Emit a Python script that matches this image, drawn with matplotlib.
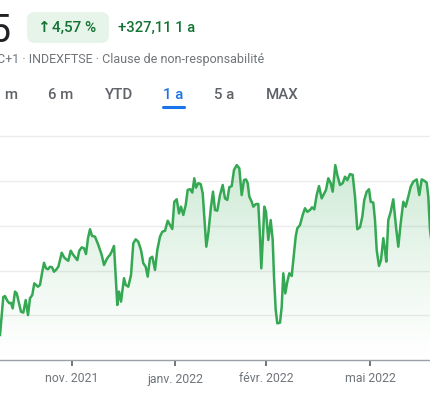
import numpy as np
import matplotlib
matplotlib.use("Agg")
import matplotlib.pyplot as plt
from matplotlib.patches import FancyBboxPatch
from matplotlib.lines import Line2D

plt.rcParams['font.family'] = ['Roboto', 'DejaVu Sans']

# ---- data (FTSE 100 level, visible part of the 1-year chart) ----
x_pos = [0, 3.3, 5, 7.3, 9.3, 11, 12.7, 15, 16.7, 19, 21, 23.3, 25.7, 28, 30, 32.3,
         34.3, 36, 38, 40, 42, 44, 46, 48, 50, 52, 54, 56, 58.3, 60, 61.7, 64, 66,
         68.3, 70.7, 72.7, 75, 77.3, 79.3, 81.7, 84, 86, 88, 90, 92, 95, 98.3, 101.7,
         104, 106.7, 108.3, 110, 111.7, 114, 117.3, 119, 121, 124, 125.7, 128.3, 131,
         133.3, 135.7, 138.3, 141, 143.3, 145.7, 147.7, 150, 152.3, 155, 157.3, 160,
         162.3, 165, 167.7, 170, 172.3, 174.3, 176.7, 179, 181, 183.3, 185.7, 187.7,
         190.3, 192.3, 194.3, 196, 198.3, 200.7, 202.7, 204.3, 206.3, 208.3, 211, 213,
         215, 217.3, 220, 222.7, 225, 227.3, 229.3, 231.7, 234, 236.7, 239.3, 241.7,
         244, 246, 247.7, 249.3, 251.7, 253.3, 256, 258.3, 260, 261.3, 263.3, 264.3,
         266, 268.3, 270.7, 272.7, 274, 275.7, 277.3, 280, 281.7, 283.3, 285.3, 287.3,
         289.3, 291.7, 293.3, 295.7, 297.3, 300, 302.7, 305, 307.3, 310, 312, 314.3,
         316.7, 319, 321.7, 324, 326, 328.3, 330.7, 332.7, 335.3, 337.3, 340, 342.7,
         345, 347.3, 350, 352.7, 355, 357.3, 360, 362.3, 364.3, 366.7, 369, 370.7,
         373.3, 375, 376.7, 379, 381, 383.3, 385, 386.3, 388.3, 390.7, 393.3, 396,
         398.3, 400.7, 403.3, 405.7, 408.3, 410.7, 413.3, 416.7, 419.3, 421.7, 424.3,
         426.7, 428.3, 430, 431]
level = [6912, 7082, 7086, 7065, 7054, 7056, 7031, 7106, 7098, 7054, 7016, 7012, 7068,
         7001, 7076, 7091, 7143, 7136, 7128, 7136, 7188, 7235, 7210, 7206, 7217, 7215,
         7195, 7203, 7217, 7247, 7280, 7260, 7251, 7244, 7289, 7274, 7260, 7247, 7289,
         7304, 7300, 7274, 7345, 7385, 7355, 7352, 7315, 7270, 7225, 7251, 7262, 7270,
         7285, 7310, 7046, 7106, 7061, 7166, 7136, 7128, 7180, 7322, 7340, 7329, 7292,
         7233, 7217, 7173, 7255, 7262, 7203, 7292, 7352, 7374, 7378, 7423, 7404, 7386,
         7508, 7519, 7456, 7486, 7449, 7493, 7561, 7564, 7549, 7613, 7571, 7591, 7587,
         7546, 7441, 7307, 7367, 7486, 7553, 7471, 7468, 7538, 7583, 7523, 7516, 7573,
         7578, 7650, 7672, 7658, 7538, 7605, 7608, 7591, 7531, 7508, 7486, 7498, 7498,
         7352, 7210, 7382, 7486, 7463, 7337, 7426, 7337, 7173, 7024, 6964, 6967, 7038,
         7188, 7098, 7150, 7188, 7176, 7247, 7352, 7389, 7404, 7449, 7479, 7463, 7471,
         7483, 7474, 7538, 7578, 7523, 7543, 7561, 7613, 7591, 7553, 7672, 7628, 7583,
         7591, 7620, 7605, 7632, 7628, 7531, 7385, 7394, 7441, 7516, 7553, 7564, 7508,
         7504, 7426, 7292, 7221, 7247, 7345, 7292, 7240, 7426, 7463, 7519, 7396, 7307,
         7412, 7508, 7486, 7531, 7575, 7598, 7608, 7538, 7608, 7602, 7593, 7531, 7382,
         7346]
tick_pos = [71.7, 175, 266, 370]
tick_labels = ["nov. 2021", "janv. 2022", "févr. 2022", "mai 2022"]
grid_levels = [7000, 7200, 7400, 7600, 7800]
tabs = ["m", "6 m", "YTD", "1 a", "5 a", "MAX"]
tab_centers = [11, 61, 119, 173.5, 224, 282]
active_tab = "1 a"

W, H = 431, 396
fig = plt.figure(figsize=(W / 100, H / 100), dpi=100)
fig.patch.set_facecolor("white")

def fx(x):
    return x / W

def fy(y):
    return 1 - y / H

# ---- chart axes ----
ax = fig.add_axes([0, fy(360), 1, (360 - 130) / H])
ymin, ymax = 6800, 6800 + 230 * 4.474
ax.set_facecolor("white")

for g in grid_levels:
    ax.axhline(g, color="#ececec", lw=1.0, zorder=0)

green = "#34a853"
xs = np.array(x_pos)
ys = np.array(level)
poly = ax.fill_between(xs, ys, ymin, color="none", lw=0)
grad = np.linspace(0, 1, 256).reshape(-1, 1)
rgba = np.zeros((256, 1, 4))
rgba[..., 0] = 0x34 / 255
rgba[..., 1] = 0xa8 / 255
rgba[..., 2] = 0x53 / 255
rgba[..., 3] = 0.25 * grad ** 1.2
im = ax.imshow(rgba, extent=[0, 431, ymin, 7700], origin="lower", aspect="auto",
               zorder=1, interpolation="bilinear")
im.set_clip_path(poly.get_paths()[0], transform=ax.transData)
ax.set_xlim(0, 431)
ax.set_ylim(ymin, ymax)

ax.plot(xs, ys, color=green, lw=1.8, zorder=3, solid_joinstyle="round")

for s in ["top", "left", "right"]:
    ax.spines[s].set_visible(False)
ax.spines["bottom"].set_color("#9aa0a6")
ax.spines["bottom"].set_linewidth(1.0)
ax.set_yticks([])
ax.set_xticks(tick_pos)
ax.set_xticklabels(tick_labels)
ax.tick_params(axis="x", direction="out", length=4, width=1.4, color="#70757a",
               labelcolor="#70757a", labelsize=8.8, pad=5)

# ---- header ----
fig.text(fx(10), fy(42), "5", fontsize=27, color="#202124", ha="right", va="baseline")

badge = FancyBboxPatch((fx(27), fy(43)), fx(109) - fx(27), fy(12) - fy(43),
                       boxstyle="round,pad=0,rounding_size=0.018",
                       transform=fig.transFigure, facecolor="#e6f4ea",
                       edgecolor="none", mutation_aspect=W / H)
fig.add_artist(badge)
fig.text(fx(37), fy(28), "↑", fontsize=11, color="#137333", ha="left", va="center",
         family="DejaVu Sans", fontweight="bold")
fig.text(fx(52), fy(28), "4,57 %", fontsize=11, color="#137333", ha="left",
         va="center", fontweight="medium")
fig.text(fx(118), fy(28), "+327,11 1 a", fontsize=10.6, color="#137333", ha="left",
         va="center", fontweight="medium")

fig.text(fx(-3), fy(60), "C+1 · INDEXFTSE · Clause de non-responsabilité",
         fontsize=9.0, color="#70757a", ha="left", va="center")

for t, c in zip(tabs, tab_centers):
    col = "#1a73e8" if t == active_tab else "#5f6368"
    fig.text(fx(c), fy(95), t, fontsize=10.8, color=col, ha="center", va="center",
             fontweight="medium")
fig.add_artist(Line2D([fx(163.5), fx(184.5)], [fy(106.5), fy(106.5)],
                      transform=fig.transFigure, color="#1a73e8", lw=2.2,
                      solid_capstyle="round"))

fig.savefig("out.png", dpi=100, facecolor="white")
